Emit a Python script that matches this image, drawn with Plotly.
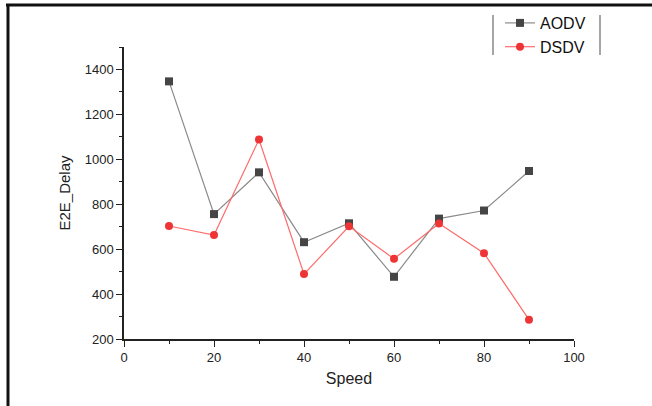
import plotly.graph_objects as go

speed = [10, 20, 30, 40, 50, 60, 70, 80, 90]
aodv = [1347, 756, 942, 631, 715, 477, 736, 772, 948]
dsdv = [703, 663, 1088, 489, 702, 557, 714, 582, 286]

W, H = 652, 406
L, R, T, B = 124, 78, 47, 67
pw, ph = W - L - R, H - T - B

def px(x):
    return (x - L) / pw

def py(y):
    return (H - B - y) / ph

fig = go.Figure()
fig.add_trace(go.Scatter(
    x=speed, y=aodv, name="AODV", mode="lines+markers",
    line=dict(color="#8a8a8a", width=1.2),
    marker=dict(symbol="square", size=8, color="#454545"),
))
fig.add_trace(go.Scatter(
    x=speed, y=dsdv, name="DSDV", mode="lines+markers",
    line=dict(color="#ff6b6b", width=1.2),
    marker=dict(symbol="circle", size=8, color="#ee3535"),
))

axis_common = dict(
    showgrid=False, zeroline=False, showline=True, linecolor="#222222", linewidth=1.5,
    ticks="outside", ticklen=6, tickwidth=1.3, tickcolor="#222222",
    tickfont=dict(family="Liberation Sans", size=13, color="#222222"),
    minor=dict(ticks="outside", ticklen=3, tickwidth=1.2, tickcolor="#222222"),
)

fig.update_xaxes(range=[0, 100], tickvals=[0, 20, 40, 60, 80, 100],
                 minor_dtick=10, minor_tick0=0,
                 title=dict(text="Speed", font=dict(family="Liberation Sans", size=16, color="#222222"), standoff=8),
                 **axis_common)
fig.update_yaxes(range=[200, 1500], tickvals=[200, 400, 600, 800, 1000, 1200, 1400],
                 minor_dtick=100, minor_tick0=0,
                 title=dict(text="E2E_Delay", font=dict(family="Liberation Sans", size=15, color="#222222"), standoff=10),
                 **axis_common)

shapes = [
    # image frame: top and left
    dict(type="line", xref="paper", yref="paper", x0=px(6), x1=px(652), y0=py(5), y1=py(5),
         line=dict(color="#111111", width=3)),
    dict(type="line", xref="paper", yref="paper", x0=px(8), x1=px(8), y0=py(5), y1=py(406),
         line=dict(color="#111111", width=3)),
    # legend side bars
    dict(type="line", xref="paper", yref="paper", x0=px(493), x1=px(493), y0=py(15), y1=py(55),
         line=dict(color="#888888", width=1.5)),
    dict(type="line", xref="paper", yref="paper", x0=px(600), x1=px(600), y0=py(15), y1=py(55),
         line=dict(color="#888888", width=1.5)),
]

fig.update_layout(
    width=W, height=H,
    margin=dict(l=L, r=R, t=T, b=B, autoexpand=False),
    paper_bgcolor="white", plot_bgcolor="white",
    shapes=shapes,
    legend=dict(x=px(500), y=py(6), xanchor="left", yanchor="top",
                bgcolor="rgba(0,0,0,0)", itemwidth=30, tracegroupgap=0,
                font=dict(family="Liberation Sans", size=16, color="#111111")),
    showlegend=True,
)

fig.write_html("out.html")
